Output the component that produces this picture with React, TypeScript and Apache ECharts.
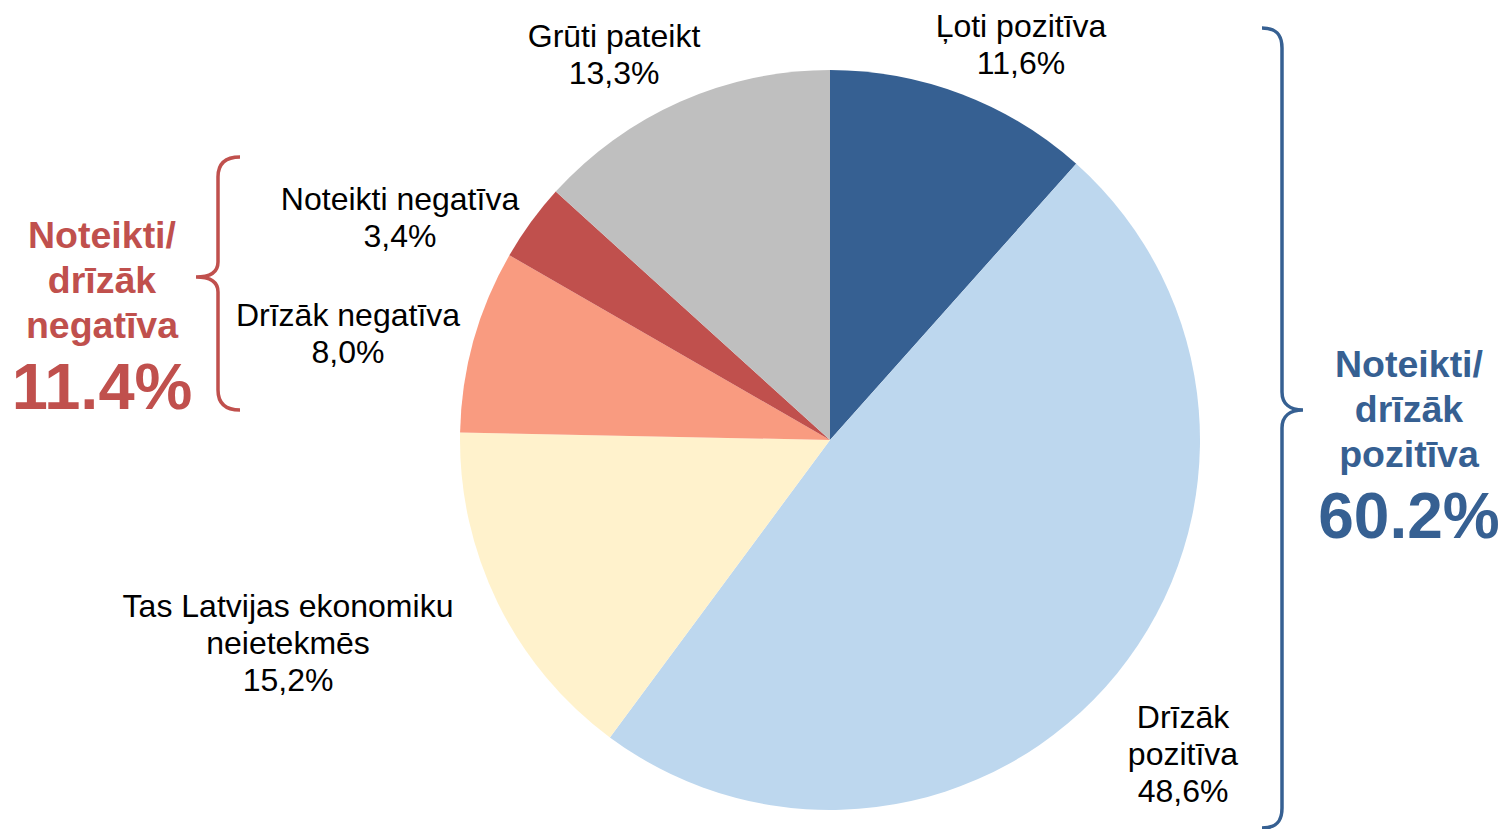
import React, { useEffect, useRef } from "react";
import * as echarts from "echarts";

const categories = [
  "Ļoti pozitīva",
  "Drīzāk pozitīva",
  "Tas Latvijas ekonomiku neietekmēs",
  "Drīzāk negatīva",
  "Noteikti negatīva",
  "Grūti pateikt",
];
const labelNames = [
  "Ļoti pozitīva",
  "Drīzāk\npozitīva",
  "Tas Latvijas ekonomiku\nneietekmēs",
  "Drīzāk negatīva",
  "Noteikti negatīva",
  "Grūti pateikt",
];
const values = [11.6, 48.6, 15.2, 8.0, 3.4, 13.3];
const colors = ["#366092", "#BDD7EE", "#FFF2CC", "#F99B80", "#C0504D", "#BFBFBF"];
const labelPos: [number, number][] = [
  [1021, 44],
  [1183, 754],
  [288, 643],
  [348, 333],
  [400, 217],
  [614, 54],
];
const negGroupText = "Noteikti/\ndrīzāk\nnegatīva";
const negGroupValue = "11.4%";
const posGroupText = "Noteikti/\ndrīzāk\npozitīva";
const posGroupValue = "60.2%";

const rightBrace =
  "M1262,28 C1276,28 1282,34 1282,48 L1282,392 C1282,404 1290,410 1303,410 C1290,410 1282,416 1282,428 L1282,808 C1282,822 1276,828 1262,828";
const leftBrace =
  "M240,157 C226,157 218,163 218,177 L218,262 C218,272 210,277 196,277 C210,277 218,282 218,292 L218,390 C218,404 226,410 240,410";

echarts.graphic.registerShape("braceRight", echarts.graphic.extendPath(rightBrace, {}) as any);
echarts.graphic.registerShape("braceLeft", echarts.graphic.extendPath(leftBrace, {}) as any);

const FONT = "'Liberation Sans', Arial, sans-serif";

export default function App() {
  const ref = useRef<HTMLDivElement>(null);
  useEffect(() => {
    if (!ref.current) return;
    const chart = echarts.init(ref.current, null, { renderer: "svg" });
    chart.setOption({
      animation: false,
      backgroundColor: "#ffffff",
      series: [
        {
          type: "pie",
          center: [830, 440],
          radius: 370,
          startAngle: 90,
          clockwise: true,
          avoidLabelOverlap: false,
          data: categories.map((c, i) => ({
            name: c,
            value: values[i],
            itemStyle: { color: colors[i] },
          })),
          label: {
            show: true,
            position: "outside",
            formatter: (p: any) =>
              labelNames[p.dataIndex] + "\n" + values[p.dataIndex].toFixed(1).replace(".", ",") + "%",
            fontFamily: FONT,
            fontSize: 32,
            lineHeight: 37,
            color: "#000000",
            align: "center",
          },
          labelLine: { show: false },
          labelLayout: (params: any) => ({
            x: labelPos[params.dataIndex][0],
            y: labelPos[params.dataIndex][1],
            align: "center",
            verticalAlign: "middle",
          }),
          emphasis: { disabled: true },
        },
      ],
      graphic: [
        {
          type: "braceRight",
          x: 0,
          y: 0,
          style: { fill: "none", stroke: "#366092", lineWidth: 3.5 },
        },
        {
          type: "braceLeft",
          x: 0,
          y: 0,
          style: { fill: "none", stroke: "#C0504D", lineWidth: 3.5 },
        },
        {
          type: "text",
          x: 102,
          y: 280,
          style: {
            text: negGroupText,
            fontFamily: FONT,
            fontWeight: "bold",
            fontSize: 37.5,
            lineHeight: 45,
            fill: "#C0504D",
            align: "center",
            verticalAlign: "middle",
          },
        },
        {
          type: "text",
          x: 102,
          y: 386,
          style: {
            text: negGroupValue,
            fontFamily: FONT,
            fontWeight: "bold",
            fontSize: 65,
            fill: "#C0504D",
            align: "center",
            verticalAlign: "middle",
          },
        },
        {
          type: "text",
          x: 1409,
          y: 409,
          style: {
            text: posGroupText,
            fontFamily: FONT,
            fontWeight: "bold",
            fontSize: 37.5,
            lineHeight: 45,
            fill: "#366092",
            align: "center",
            verticalAlign: "middle",
          },
        },
        {
          type: "text",
          x: 1409,
          y: 516,
          style: {
            text: posGroupValue,
            fontFamily: FONT,
            fontWeight: "bold",
            fontSize: 64,
            fill: "#366092",
            align: "center",
            verticalAlign: "middle",
          },
        },
      ],
    });
    return () => chart.dispose();
  }, []);
  return (
    <div
      ref={ref}
      style={{ position: "absolute", left: 0, top: 0, width: 1504, height: 829 }}
    />
  );
}
